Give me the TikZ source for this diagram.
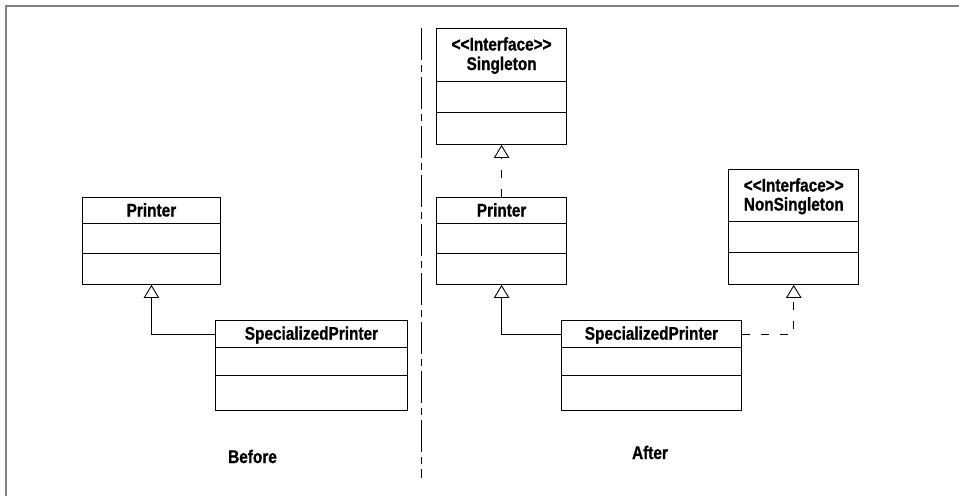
\documentclass[tikz,border=0pt]{standalone}
\usepackage{fontspec}
\setmainfont{Liberation Sans}[FakeStretch=0.84, BoldFeatures={FakeBold=0.9}]
\usetikzlibrary{arrows.meta}

\tikzset{
  classbox/.style={draw=black, line width=0.9pt, fill=white, rectangle,
    inner sep=0pt, anchor=north west},
  lbl/.style={font=\fontsize{18.3}{19.5}\selectfont\bfseries, inner sep=0pt,
    text=black},
  caption/.style={lbl, anchor=base},
  gen/.style={draw=black, line width=0.9pt,
    -{Triangle[open, width=15.5pt, length=13pt, line width=0.9pt]}},
  real/.style={gen, dash pattern=on 8pt off 11pt},
  divider/.style={draw=black, line width=0.9pt,
    dash pattern=on 32pt off 5pt on 7pt off 5pt},
  frameline/.style={draw=black!50, line width=2pt}
}

\newcommand{\stereo}{<{}<Interface>{}>}

\begin{document}
\begin{tikzpicture}[x=1pt, y=-1pt]
  \useasboundingbox (0,0) rectangle (959,496);

  % outer frame: top and left edges only
  \coordinate (frtl) at (5.5,5.5);
  \coordinate (frtr) at (959,5.5);
  \coordinate (frbl) at (5.5,496);
  \draw[frameline] (frtr) -- (frtl) -- (frbl);

  % divider between the two halves
  \coordinate (divtop) at (421.5,28);
  \coordinate (divbot) at (421.5,478);
  \draw[divider] (divtop) -- (divbot);

  % ---------- Before ----------
  \node[classbox, minimum width=138pt, minimum height=87pt] (lp) at (82,197) {};
  \draw[line width=0.9pt] ([yshift=-26pt]lp.north west) -- ([yshift=-26pt]lp.north east);
  \draw[line width=0.9pt] ([yshift=-56pt]lp.north west) -- ([yshift=-56pt]lp.north east);
  \node[caption] at ([yshift=-19.5pt]lp.north) {Printer};

  \node[classbox, minimum width=192pt, minimum height=89.7pt] (lsp) at (215,320) {};
  \draw[line width=0.9pt] ([yshift=-27.7pt]lsp.north west) -- ([yshift=-27.7pt]lsp.north east);
  \draw[line width=0.9pt] ([yshift=-55.7pt]lsp.north west) -- ([yshift=-55.7pt]lsp.north east);
  \node[caption] at ([yshift=-19.7pt]lsp.north) {SpecializedPrinter};

  \draw[gen] ([yshift=-14pt]lsp.north west) -| (lp.south);

  \node[caption] (before) at (252.5,463) {Before};

  % ---------- After ----------
  \node[classbox, minimum width=129.7pt, minimum height=116.3pt] (sing) at (436.3,27.7) {};
  \draw[line width=0.9pt] ([yshift=-54pt]sing.north west) -- ([yshift=-54pt]sing.north east);
  \draw[line width=0.9pt] ([yshift=-85pt]sing.north west) -- ([yshift=-85pt]sing.north east);
  \node[lbl, anchor=base] at ([yshift=-22.8pt]sing.north) {\stereo};
  \node[lbl, anchor=base] at ([yshift=-42.3pt]sing.north) {Singleton};

  \node[classbox, minimum width=129.7pt, minimum height=87pt] (rp) at (436.3,197) {};
  \draw[line width=0.9pt] ([yshift=-26pt]rp.north west) -- ([yshift=-26pt]rp.north east);
  \draw[line width=0.9pt] ([yshift=-56pt]rp.north west) -- ([yshift=-56pt]rp.north east);
  \node[caption] at ([yshift=-19.5pt]rp.north) {Printer};

  \node[classbox, minimum width=130pt, minimum height=115pt] (ns) at (728.3,169) {};
  \draw[line width=0.9pt] ([yshift=-52.7pt]ns.north west) -- ([yshift=-52.7pt]ns.north east);
  \draw[line width=0.9pt] ([yshift=-83.7pt]ns.north west) -- ([yshift=-83.7pt]ns.north east);
  \node[lbl, anchor=base] at ([yshift=-22.5pt]ns.north) {\stereo};
  \node[lbl, anchor=base] at ([yshift=-41.5pt]ns.north) {NonSingleton};

  \node[classbox, minimum width=180pt, minimum height=89.7pt] (rsp) at (561,320) {};
  \draw[line width=0.9pt] ([yshift=-27.7pt]rsp.north west) -- ([yshift=-27.7pt]rsp.north east);
  \draw[line width=0.9pt] ([yshift=-55.7pt]rsp.north west) -- ([yshift=-55.7pt]rsp.north east);
  \node[caption] at ([yshift=-19.7pt]rsp.north) {SpecializedPrinter};

  \draw[real] (rp.north) -- (sing.south);
  \draw[gen] ([yshift=-14pt]rsp.north west) -| (rp.south);
  \draw[real] ([yshift=-14pt]rsp.north east) -| (ns.south);

  \node[caption] (after) at (650,459) {After};
\end{tikzpicture}
\end{document}
